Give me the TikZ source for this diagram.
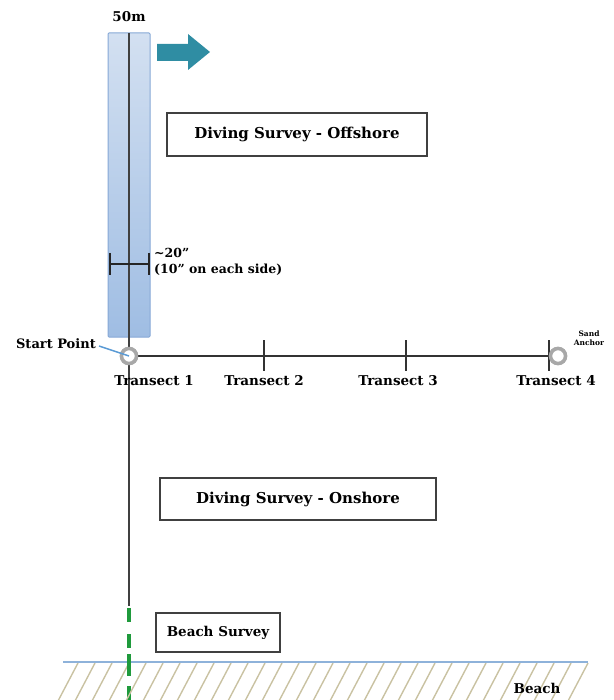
\documentclass[tikz,border=0pt]{standalone}
\usepackage{fontspec}
\setmainfont{DejaVu Serif}
\usetikzlibrary{positioning}
\definecolor{striptop}{HTML}{D3E0F1}
\definecolor{stripbot}{HTML}{9FBDE3}
\definecolor{stripedge}{HTML}{86A8D6}
\definecolor{arrowteal}{HTML}{2F8DA3}
\definecolor{leaderblue}{HTML}{5B9BD5}
\definecolor{ringgray}{HTML}{A8A8A8}
\definecolor{beachgreen}{HTML}{1F9A3C}
\definecolor{sandtan}{HTML}{C9C2A2}
\definecolor{shoreblue}{HTML}{8EB2DA}
\tikzset{
  surveybox/.style={draw=black!75, line width=1.3pt, font=\fontsize{15}{17}\selectfont\bfseries, inner sep=0pt},
  label/.style={font=\fontsize{13.5}{15}\selectfont\bfseries, inner sep=1pt},
  ring/.style={circle, draw=ringgray, line width=3.5pt, fill=white, minimum size=15pt, inner sep=0pt},
  transect/.style={line width=1.5pt, black!80},
}
\begin{document}
\begin{tikzpicture}[x=1pt,y=-1pt]
\useasboundingbox (0,0) rectangle (613,700);
{\bfseries

% Survey strip
\shade[top color=striptop, bottom color=stripbot, draw=stripedge, line width=1pt, rounded corners=1pt] (108,33) rectangle (150,337);%
\node[label] (width) at (129,17) {50m};%

% Direction arrow
\fill[arrowteal] (157,44) -- (188,44) -- (188,34) -- (210,52) -- (188,70) -- (188,61) -- (157,61) -- cycle;%

% Survey boxes
\node[surveybox, minimum width=260, minimum height=43] (offshore) at (297,134.5) {Diving Survey - Offshore};%
\node[surveybox, minimum width=276, minimum height=42] (onshore) at (298,499) {Diving Survey - Onshore};%
\node[surveybox, minimum width=124, minimum height=39, font=\fontsize{13.5}{16}\selectfont\bfseries] (beachsurvey) at (218,632.5) {Beach Survey};%

% Points on the transect line
\coordinate (top) at (129,33);%
\coordinate (shore) at (129,606);%
\coordinate (bottom) at (129,700);%
\node[ring] (start) at (129,356) {};%
\node[ring] (anchor) at (558,356) {};%

% Drawing centre line
\draw[line width=1.5pt, black!75] (top) -- (start) -- (shore);%
\draw[line width=4pt, beachgreen, dash pattern=on 14pt off 12pt] (shore) ++(0,2) -- (bottom);%

% Drawing transect line
\draw[transect] (start) -- (anchor);%
\foreach \x/\n in {264/2, 406/3, 549/4}{
  \coordinate (tick\n) at (\x,355);
  \draw[transect] (\x,340) -- (\x,371);
}
\node[ring] at (start) {};%
\node[ring] at (anchor) {};%

% Width marker
\coordinate (wl) at (110,264);%
\coordinate (wr) at (149,264);%
\draw[line width=2pt, black!85] (wl) -- (wr);%
\draw[line width=2pt, black!85] (110,253) -- (110,275) (149,253) -- (149,275);%
\node[font=\fontsize{12.5}{16}\selectfont\bfseries, anchor=north west, align=left, inner sep=0pt] (widthtext) at (154,248) {\textasciitilde20”\\(10” on each side)};%

% Start point and anchor labels
\node[label, anchor=east, font=\fontsize{13}{14}\selectfont\bfseries] (startlabel) at (97,344) {Start Point};%
\draw[leaderblue, line width=1.5pt] (startlabel.east) ++(2,2) -- (start.center);%
\node[font=\fontsize{7.5}{9}\selectfont\bfseries, align=center, inner sep=0pt] (anchorlabel) at (589,338) {Sand\\Anchor};%

% Transect labels
\node[label] (t1) at (154,381) {Transect 1};%
\node[label] (t2) at (264,381) {Transect 2};%
\node[label] (t3) at (398,381) {Transect 3};%
\node[label] (t4) at (556,381) {Transect 4};%

% Beach
\begin{scope}
\clip (55,663) rectangle (600,700);
\foreach \x in {58,75,...,570}{
  \draw[sandtan, line width=1.4pt] (\x,701) -- (\x+20,663);
}
\end{scope}
\draw[shoreblue, line width=1.6pt] (63,662) -- (588,662);%
\draw[line width=4pt, beachgreen] (129,654) -- (129,676);%
\node[label] (beach) at (537,688) {Beach};%
}
\end{tikzpicture}
\end{document}
